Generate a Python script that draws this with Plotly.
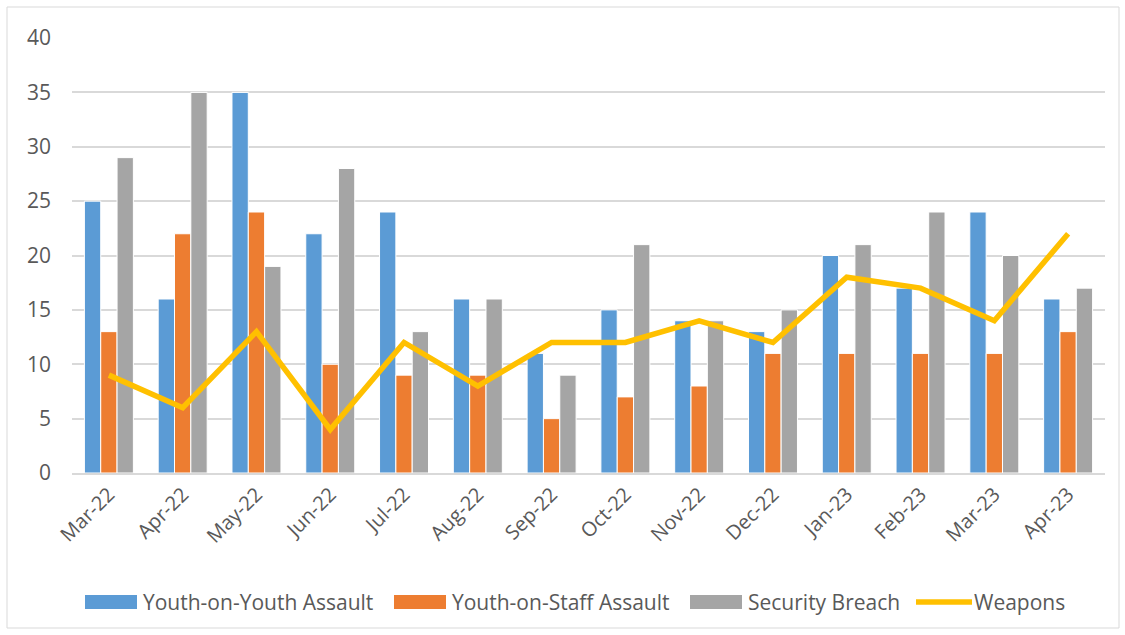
import plotly.graph_objects as go

months = ["Mar-22", "Apr-22", "May-22", "Jun-22", "Jul-22", "Aug-22", "Sep-22",
          "Oct-22", "Nov-22", "Dec-22", "Jan-23", "Feb-23", "Mar-23", "Apr-23"]
youth_on_youth = [25, 16, 35, 22, 24, 16, 11, 15, 14, 13, 20, 17, 24, 16]
youth_on_staff = [13, 22, 24, 10, 9, 9, 5, 7, 8, 11, 11, 11, 11, 13]
security_breach = [29, 35, 19, 28, 13, 16, 9, 21, 14, 15, 21, 24, 20, 17]
weapons = [9, 6, 13, 4, 12, 8, 12, 12, 14, 12, 18, 17, 14, 22]

series_names = ["Youth-on-Youth Assault", "Youth-on-Staff Assault", "Security Breach", "Weapons"]
colors = ["#5b9bd5", "#ed7d31", "#a5a5a5", "#ffc000"]

W, H = 1125, 635
L, R, T, B = 72, 20, 38, 162
pw, ph = W - L - R, H - T - B
FONT = "Open Sans, Liberation Sans, sans-serif"
TEXT = "#595959"

def px(x):
    return (x - L) / pw

def py(y):
    return (H - B - y) / ph

fig = go.Figure()
bar_line = dict(color="white", width=1)
for vals, name, col in zip([youth_on_youth, youth_on_staff, security_breach],
                           series_names[:3], colors[:3]):
    fig.add_bar(x=months, y=vals, name=name, marker=dict(color=col, line=bar_line))
fig.add_scatter(x=months, y=weapons, name=series_names[3], mode="lines",
                line=dict(color=colors[3], width=5.5))

# Legend drawn below the plot: wide swatches for the bars, a short stroke for the line
shapes = [dict(type="rect", xref="paper", yref="paper",
               x0=px(7), x1=px(1119), y0=py(628), y1=py(7),
               line=dict(color="#d9d9d9", width=1), layer="below")]
annotations = []
legend_y = 602
swatch_x = [85, 394, 690, 916]
text_x = [141, 450, 746, 972]
for i, (name, col) in enumerate(zip(series_names, colors)):
    if i < 3:
        shapes.append(dict(type="rect", xref="paper", yref="paper",
                           x0=px(swatch_x[i]), x1=px(swatch_x[i] + 52),
                           y0=py(legend_y + 7), y1=py(legend_y - 7),
                           fillcolor=col, line=dict(width=0)))
    else:
        shapes.append(dict(type="line", xref="paper", yref="paper",
                           x0=px(swatch_x[i]), x1=px(swatch_x[i] + 56),
                           y0=py(legend_y), y1=py(legend_y),
                           line=dict(color=col, width=5.5)))
    annotations.append(dict(text=name, xref="paper", yref="paper",
                            x=px(text_x[i]), y=py(legend_y),
                            xanchor="left", yanchor="middle", showarrow=False,
                            font=dict(family=FONT, size=21, color=TEXT)))

fig.update_layout(
    width=W, height=H,
    margin=dict(l=L, r=R, t=T, b=B),
    paper_bgcolor="white", plot_bgcolor="white",
    font=dict(family=FONT, size=20, color=TEXT),
    barmode="group", bargap=0.336, bargroupgap=0,
    showlegend=False,
    shapes=shapes,
    annotations=annotations,
)
fig.update_xaxes(tickangle=-45, showgrid=False, showline=True, linecolor="#d9d9d9",
                 linewidth=1.5, ticks="", tickfont=dict(size=20, color=TEXT))
fig.update_yaxes(range=[0, 40], dtick=5, showgrid=True, gridcolor="#d9d9d9", gridwidth=1.5,
                 zeroline=False, showline=False, ticks="", ticklabelstandoff=20,
                 tickfont=dict(size=21, color=TEXT))

fig.write_html("out.html")
